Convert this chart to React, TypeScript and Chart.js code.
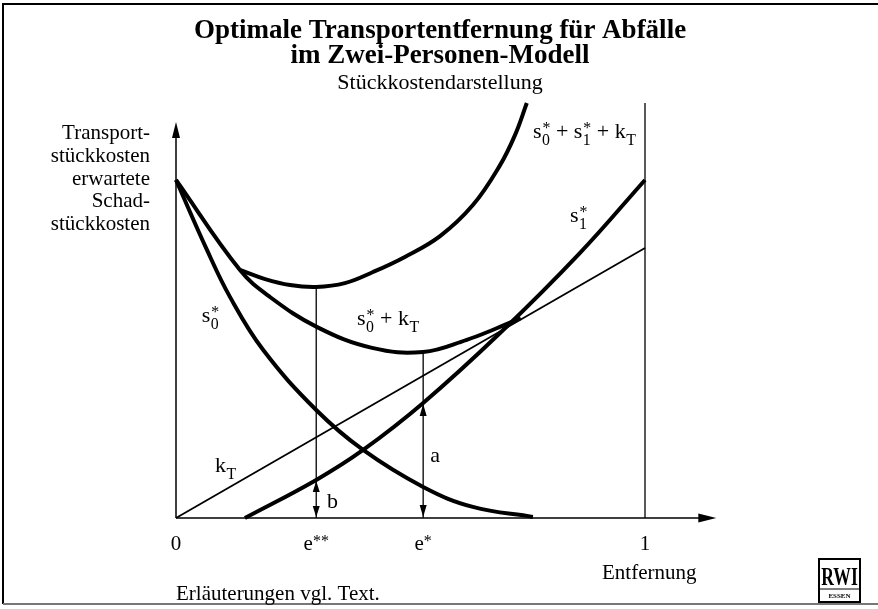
import { useEffect, useRef } from 'react';
import { Chart, registerables } from 'chart.js';
Chart.register(...registerables);

// ---- data (x: Entfernung, 1 = max; y: Stückkosten) ----
const s0X = [0, 0.066, 0.115, 0.186, 0.299, 0.399, 0.527, 0.633, 0.761];
const s0Y = [1.252, 0.993, 0.819, 0.622, 0.4, 0.252, 0.115, 0.041, 0.004];
const kTX = [0, 1];
const kTY = [0, 1];
const s1X = [0.147, 0.299, 0.399, 0.527, 0.691, 0.861, 1];
const s1Y = [0, 0.141, 0.252, 0.426, 0.685, 0.981, 1.252];
const s0kTX = [0, 0.136, 0.2, 0.301, 0.418, 0.527, 0.62, 0.68, 0.735];
const s0kTY = [1.252, 0.919, 0.819, 0.707, 0.63, 0.615, 0.66, 0.7, 0.74];
const totalX = [0.136, 0.19, 0.243, 0.299, 0.36, 0.42, 0.488, 0.563, 0.633, 0.691, 0.723, 0.748];
const totalY = [0.919, 0.885, 0.863, 0.856, 0.87, 0.911, 0.967, 1.044, 1.159, 1.307, 1.419, 1.537];
const eStarStar = 0.299;
const eStar = 0.527;
const eStarStarTop = 0.856; // total curve at e**
const eStarTop = 0.615; // s0*+kT at e*
const bTop = 0.141; // s1* at e**
const aTop = 0.426; // s1* at e*
const oneLineTop = 1.537;
const xTickValues = [0, eStarStar, eStar, 1];
const xTickLabels = ['0', 'e**', 'e*', '1'];
const yAxisLabel = ['Transport-', 'stückkosten', 'erwartete', 'Schad-', 'stückkosten'];
const titleLines = ['Optimale Transportentfernung für Abfälle', 'im Zwei-Personen-Modell'];
const subtitle = 'Stückkostendarstellung';
const xAxisTitle = 'Entfernung';
const footnote = 'Erläuterungen vgl. Text.';

type Tok = [string, string, string]; // base, subscript, superscript
const curveLabels: { x: number; y: number; toks: Tok[] }[] = [
  { x: 0.055, y: 0.726, toks: [['s', '0', '*']] },
  { x: 0.386, y: 0.715, toks: [['s', '0', '*'], [' + ', '', ''], ['k', 'T', '']] },
  { x: 0.083, y: 0.17, toks: [['k', 'T', '']] },
  { x: 0.761, y: 1.407, toks: [['s', '0', '*'], [' + ', '', ''], ['s', '1', '*'], [' + ', '', ''], ['k', 'T', '']] },
  { x: 0.84, y: 1.096, toks: [['s', '1', '*']] },
  { x: 0.542, y: 0.207, toks: [['a', '', '']] },
  { x: 0.322, y: 0.037, toks: [['b', '', '']] },
];

const pts = (xs: number[], ys: number[]) => xs.map((x, i) => ({ x, y: ys[i] }));
const SERIF = '"Liberation Serif", "Times New Roman", serif';

function drawRich(ctx: CanvasRenderingContext2D, toks: Tok[], x: number, y: number, size: number) {
  let cx = x;
  ctx.textAlign = 'left';
  ctx.textBaseline = 'alphabetic';
  for (const [base, sub, sup] of toks) {
    ctx.font = `${size}px ${SERIF}`;
    ctx.fillText(base, cx, y);
    cx += ctx.measureText(base).width;
    const ss = size * 0.72;
    ctx.font = `${ss}px ${SERIF}`;
    let w = 0;
    if (sub) {
      ctx.fillText(sub, cx + 0.5, y + size * 0.3);
      w = Math.max(w, ctx.measureText(sub).width + 0.5);
    }
    if (sup) {
      ctx.fillText(sup, cx + 1, y - size * 0.22);
      w = Math.max(w, ctx.measureText(sup).width + 1);
    }
    cx += w;
  }
}

function head(ctx: CanvasRenderingContext2D, x: number, y: number, dir: string, len: number, half: number) {
  ctx.beginPath();
  if (dir === 'up') {
    ctx.moveTo(x, y);
    ctx.lineTo(x - half, y + len);
    ctx.lineTo(x + half, y + len);
  } else if (dir === 'down') {
    ctx.moveTo(x, y);
    ctx.lineTo(x - half, y - len);
    ctx.lineTo(x + half, y - len);
  } else {
    ctx.moveTo(x, y);
    ctx.lineTo(x - len, y - half);
    ctx.lineTo(x - len, y + half);
  }
  ctx.closePath();
  ctx.fill();
}

const decor = {
  id: 'decor',
  afterDatasetsDraw(chart: any) {
    const ctx: CanvasRenderingContext2D = chart.ctx;
    const xs = chart.scales.x;
    const ys = chart.scales.y;
    const X = (v: number) => xs.getPixelForValue(v);
    const Y = (v: number) => ys.getPixelForValue(v);
    ctx.save();
    ctx.fillStyle = '#000';
    ctx.strokeStyle = '#000';

    // frame
    ctx.lineWidth = 2;
    ctx.beginPath();
    ctx.moveTo(3, 604);
    ctx.lineTo(3, 4);
    ctx.lineTo(878, 4);
    ctx.stroke();
    ctx.strokeStyle = '#777';
    ctx.beginPath();
    ctx.moveTo(3, 604);
    ctx.lineTo(878, 604);
    ctx.stroke();
    ctx.strokeStyle = '#000';

    // axes
    const x0 = X(0), y0 = Y(0);
    const yTop = Y(1.467), xEnd = X(1.152);
    ctx.lineWidth = 1.5;
    ctx.beginPath();
    ctx.moveTo(x0, y0);
    ctx.lineTo(x0, yTop + 8);
    ctx.moveTo(x0, y0);
    ctx.lineTo(xEnd - 8, y0);
    ctx.stroke();
    head(ctx, x0, yTop, 'up', 16, 4);
    head(ctx, xEnd, y0, 'right', 18, 4.5);

    // a and b arrows
    head(ctx, X(eStar), Y(aTop) + 1, 'up', 12, 3.5);
    head(ctx, X(eStar), y0 - 1, 'down', 12, 3.5);
    head(ctx, X(eStarStar), Y(bTop) + 1, 'up', 11, 3.5);
    head(ctx, X(eStarStar), y0 - 1, 'down', 11, 3.5);

    // curve labels
    for (const l of curveLabels) drawRich(ctx, l.toks, X(l.x), Y(l.y), 22);

    // x tick labels
    ctx.textBaseline = 'alphabetic';
    xTickValues.forEach((v, i) => {
      const lab = xTickLabels[i];
      const base = lab[0];
      const sup = lab.slice(1);
      ctx.font = `21px ${SERIF}`;
      const wb = ctx.measureText(base).width;
      ctx.font = `16px ${SERIF}`;
      const ws = ctx.measureText(sup).width;
      const left = X(v) - (wb + ws) / 2;
      ctx.font = `21px ${SERIF}`;
      ctx.textAlign = 'left';
      ctx.fillText(base, left, 550);
      if (sup) {
        ctx.font = `16px ${SERIF}`;
        ctx.fillText(sup, left + wb, 546);
      }
    });

    // axis titles
    ctx.font = `21px ${SERIF}`;
    ctx.textAlign = 'left';
    ctx.fillText(xAxisTitle, 602, 579);
    ctx.fillText(footnote, 176, 600);
    ctx.textAlign = 'right';
    const yl = [139, 162, 185, 207, 230];
    yAxisLabel.forEach((t, i) => ctx.fillText(t, 150, yl[i]));

    // titles
    ctx.textAlign = 'center';
    ctx.font = `bold 27px ${SERIF}`;
    ctx.fillText(titleLines[0], 440, 38);
    ctx.fillText(titleLines[1], 440, 63);
    ctx.font = `22px ${SERIF}`;
    ctx.fillText(subtitle, 440, 89);

    // RWI logo
    ctx.lineWidth = 2;
    ctx.strokeRect(819, 559, 41, 43);
    ctx.font = `bold 22px ${SERIF}`;
    ctx.textAlign = 'center';
    ctx.save();
    ctx.translate(839.5, 585);
    ctx.scale(0.8, 1.15);
    ctx.fillText('RWI', 0, 0);
    ctx.restore();
    ctx.lineWidth = 1;
    ctx.beginPath();
    ctx.moveTo(820, 589);
    ctx.lineTo(859, 589);
    ctx.stroke();
    ctx.font = `bold 7px ${SERIF}`;
    ctx.fillText('ESSEN', 839.5, 598);

    ctx.restore();
  },
};

export default function App() {
  const ref = useRef<HTMLCanvasElement | null>(null);
  useEffect(() => {
    document.body.style.margin = '0';
    const canvas = ref.current!;
    const thick = { borderColor: '#000', borderWidth: 4, pointRadius: 0, fill: false, clip: false as any, tension: 0.4 };
    const thin = { borderColor: '#000', borderWidth: 1.5, pointRadius: 0, fill: false, clip: false as any };
    const chart = new Chart(canvas, {
      type: 'line',
      data: {
        datasets: [
          { label: 'kT', data: pts(kTX, kTY), ...thin, borderWidth: 1.8 },
          { label: 'e**', data: [{ x: eStarStar, y: 0 }, { x: eStarStar, y: eStarStarTop }], ...thin, borderWidth: 1.3 },
          { label: 'e*', data: [{ x: eStar, y: 0 }, { x: eStar, y: eStarTop }], ...thin, borderWidth: 1.3 },
          { label: '1', data: [{ x: 1, y: 0 }, { x: 1, y: oneLineTop }], ...thin, borderWidth: 1.3 },
          { label: 's0*', data: pts(s0X, s0Y), ...thick },
          { label: 's1*', data: pts(s1X, s1Y), ...thick },
          { label: 's0*+kT', data: pts(s0kTX, s0kTY), ...thick },
          { label: 's0*+s1*+kT', data: pts(totalX, totalY), ...thick },
        ],
      },
      options: {
        responsive: false,
        animation: false,
        parsing: false as any,
        layout: { padding: { left: 176, right: 878 - 176 - 1.16 * 469, top: 518 - 1.55 * 270, bottom: 91 } },
        scales: {
          x: { type: 'linear', min: 0, max: 1.16, display: false },
          y: { type: 'linear', min: 0, max: 1.55, display: false },
        },
        plugins: { legend: { display: false }, tooltip: { enabled: false }, title: { display: false } },
        events: [],
      },
      plugins: [decor],
    });
    return () => chart.destroy();
  }, []);
  return (
    <div style={{ width: 878, height: 609, background: '#fff' }}>
      <canvas ref={ref} width={878} height={609} style={{ display: 'block' }} />
    </div>
  );
}
